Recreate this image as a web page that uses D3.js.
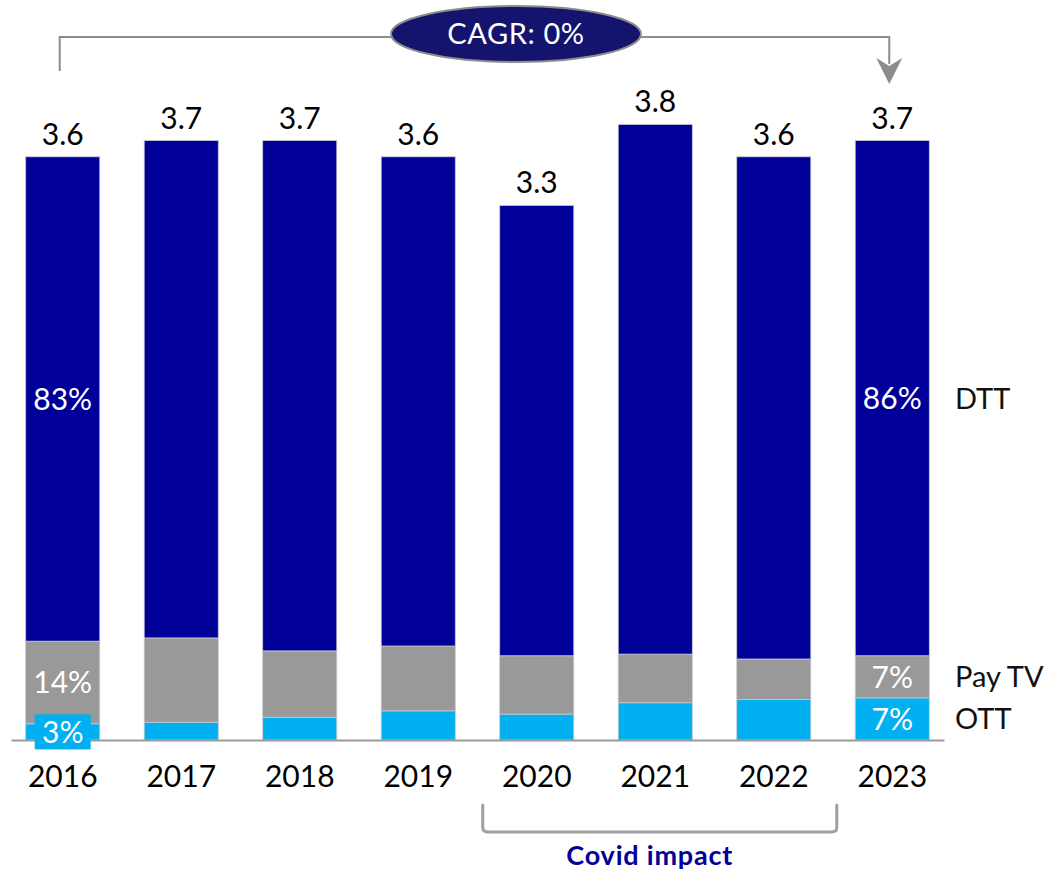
<!DOCTYPE html>
<html>
<head>
<meta charset="utf-8">
<script src="https://cdn.jsdelivr.net/npm/d3@7/dist/d3.min.js"></script>
<style>
  html, body { margin: 0; padding: 0; background: #fff; }
  svg { display: block; font-family: "Lato", "Open Sans", sans-serif; }
</style>
</head>
<body>
<svg id="chart" width="1063" height="872"></svg>
<script>
// Viewers by platform (millions), stacked: OTT at the bottom, Pay TV, then DTT
const years  = ["2016", "2017", "2018", "2019", "2020", "2021", "2022", "2023"];
const totals = [3.6, 3.7, 3.7, 3.6, 3.3, 3.8, 3.6, 3.7];
const ott    = [0.10, 0.11, 0.14, 0.18, 0.16, 0.23, 0.25, 0.26];
const payTv  = [0.51, 0.52, 0.41, 0.40, 0.36, 0.30, 0.25, 0.26];
const dtt    = [2.99, 3.07, 3.15, 3.02, 2.78, 3.27, 3.10, 3.18];

const seriesNames  = ["OTT", "Pay TV", "DTT"];
const seriesColors = ["#00B0F0", "#999999", "#000099"];

// Share labels shown only on the first and last year
const shareLabels = [
  { year: "2016", series: "DTT",    text: "83%" },
  { year: "2016", series: "Pay TV", text: "14%" },
  { year: "2016", series: "OTT",    text: "3%", boxed: true },
  { year: "2023", series: "DTT",    text: "86%" },
  { year: "2023", series: "Pay TV", text: "7%" },
  { year: "2023", series: "OTT",    text: "7%" }
];

const cagrText  = "CAGR: 0%";
const covidText = "Covid impact";

const svg = d3.select("#chart");

const rows = years.map((yr, i) => ({ year: yr, "OTT": ott[i], "Pay TV": payTv[i], "DTT": dtt[i], total: totals[i] }));
const stack = d3.stack().keys(seriesNames)(rows);

const x = d3.scaleBand().domain(years).range([11, 944]).paddingInner(0.375).paddingOuter(0.124);
const y = d3.scaleLinear().domain([0, 4]).range([740, 92]);
const color = d3.scaleOrdinal().domain(seriesNames).range(seriesColors);

// Stacked bars
svg.append("g").selectAll("g")
  .data(stack)
  .join("g")
  .attr("fill", d => color(d.key))
  .selectAll("rect")
  .data(d => d.map(s => ({ s, key: d.key })))
  .join("rect")
  .attr("x", d => x(d.s.data.year))
  .attr("width", x.bandwidth())
  .attr("y", d => y(d.s[1]))
  .attr("height", d => y(d.s[0]) - y(d.s[1]))
  .attr("stroke", "#c8c8d0")
  .attr("stroke-width", 0.8);

// Category axis
const axis = svg.append("g")
  .attr("transform", `translate(0,${y(0)})`)
  .call(d3.axisBottom(x).tickSize(0));
axis.select(".domain").attr("stroke", "#9a9a9a").attr("stroke-width", 2.2);
axis.selectAll("text")
  .attr("y", 47).attr("dy", null)
  .attr("font-size", 30).attr("font-family", "Lato, sans-serif")
  .attr("fill", "#000");

// Totals above bars
svg.append("g").selectAll("text")
  .data(rows)
  .join("text")
  .attr("x", d => x(d.year) + x.bandwidth() / 2)
  .attr("y", d => y(d.total) - 12)
  .attr("text-anchor", "middle")
  .attr("font-size", 30)
  .attr("fill", "#000")
  .text(d => d.total.toFixed(1));

// Segment share labels
function segmentOf(year, key) {
  const layer = stack.find(l => l.key === key);
  return layer[years.indexOf(year)];
}
const shareG = svg.append("g");
shareLabels.forEach(l => {
  const seg = segmentOf(l.year, l.series);
  const cx = x(l.year) + x.bandwidth() / 2;
  const cy = (y(seg[0]) + y(seg[1])) / 2;
  if (l.boxed) {
    shareG.append("rect")
      .attr("x", cx - 28).attr("y", cy - 17.5)
      .attr("width", 56).attr("height", 35)
      .attr("fill", color(l.series));
  }
  shareG.append("text")
    .attr("x", cx).attr("y", cy)
    .attr("dy", "0.36em")
    .attr("text-anchor", "middle")
    .attr("font-size", 30)
    .attr("fill", "#fff")
    .text(l.text);
});

// Series names beside the last bar
const lastYear = years[years.length - 1];
svg.append("g").selectAll("text")
  .data(seriesNames)
  .join("text")
  .attr("x", 955)
  .attr("y", k => { const s = segmentOf(lastYear, k); return (y(s[0]) + y(s[1])) / 2; })
  .attr("dy", "0.36em")
  .attr("font-size", 29)
  .attr("fill", "#111")
  .text(k => k);

// CAGR connector from first to last year
const x0 = x(years[0]) + x.bandwidth() / 2 - 3;
const x1 = x(lastYear) + x.bandwidth() / 2 - 3;
const lineY = 37;
const ann = svg.append("g");
ann.append("path")
  .attr("d", `M${x0},71 V${lineY} H${x1} V64`)
  .attr("fill", "none")
  .attr("stroke", "#8c8c8c")
  .attr("stroke-width", 2);
ann.append("path")
  .attr("d", `M${x1},84 L${x1 - 13},58 L${x1},66 L${x1 + 13},58 Z`)
  .attr("fill", "#8c8c8c");

const ex = 516, ey = 34;
ann.append("ellipse")
  .attr("cx", ex).attr("cy", ey)
  .attr("rx", 125).attr("ry", 28)
  .attr("fill", "#14146E")
  .attr("stroke", "#8c8c8c")
  .attr("stroke-width", 2);
ann.append("text")
  .attr("x", ex).attr("y", ey)
  .attr("dy", "0.36em")
  .attr("text-anchor", "middle")
  .attr("font-size", 29)
  .attr("letter-spacing", 0.6)
  .attr("fill", "#fff")
  .text(cagrText);

// Covid bracket under 2020-2022
const bx0 = x("2020") - 17;
const bx1 = x("2022") + x.bandwidth() + 26;
const r = 5;
svg.append("path")
  .attr("d", `M${bx0},805 V${832 - r} Q${bx0},832 ${bx0 + r},832 H${bx1 - r} Q${bx1},832 ${bx1},${832 - r} V805`)
  .attr("fill", "none")
  .attr("stroke", "#a0a0a0")
  .attr("stroke-width", 3)
  .attr("stroke-linecap", "round");
svg.append("text")
  .attr("x", (bx0 + bx1) / 2 - 10)
  .attr("y", 865)
  .attr("text-anchor", "middle")
  .attr("font-size", 27)
  .attr("font-weight", 700)
  .attr("letter-spacing", 0.8)
  .attr("fill", "#000099")
  .text(covidText);
</script>
</body>
</html>
